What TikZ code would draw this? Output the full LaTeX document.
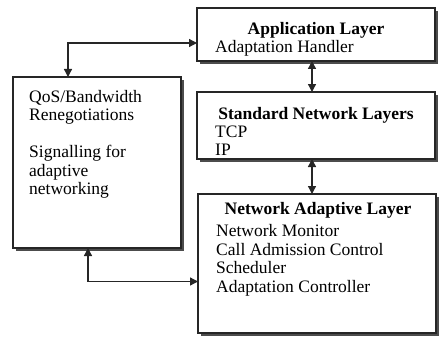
\documentclass[tikz,border=0pt]{standalone}
\usepackage{fontspec}
\setmainfont{Liberation Serif}
\usetikzlibrary{arrows.meta, shadows}

\begin{document}
\begin{tikzpicture}[
    x=1pt, y=-1pt,
    layer/.style={rectangle, draw=black!85, line width=1.1pt, fill=white, inner sep=0pt, outer sep=0pt, anchor=north west,
        drop shadow={shadow xshift=3pt, shadow yshift=-3pt, fill=black!70, opacity=1}},
    head/.style={font=\fontsize{17.5}{18.5}\selectfont\bfseries, inner sep=0pt, anchor=base},
    body/.style={font=\fontsize{17.5}{18.5}\selectfont, align=left, inner sep=0pt, anchor=north west},
    link/.style={line width=1.3pt, draw=black!85, {Triangle[length=8pt,width=8pt]}-{Triangle[length=8pt,width=8pt]}}
]
\useasboundingbox (0,0) rectangle (439,337);
\node (app) [layer, minimum width=238pt, minimum height=53pt] at (197,8) {};
\node (std) [layer, minimum width=238pt, minimum height=67pt] at (197,92) {};
\node (nal) [layer, minimum width=238pt, minimum height=139pt] at (198,194) {};
\node (qos) [layer, minimum width=168pt, minimum height=171pt] at (13,77) {};

\node (apphead) [head] at (316,35) {Application Layer};
\node (appbody) [body] at (215,40) {Adaptation Handler};
\node (stdhead) [head] at (316,119) {Standard Network Layers};
\node (stdbody) [body] at (215,125.5) {TCP\\IP};
\node (nalhead) [head] at (318,214) {Network Adaptive Layer};
\node (nalbody) [body, font=\fontsize{17.5}{18.7}\selectfont] at (216,224) {Network Monitor\\Call Admission Control\\Scheduler\\Adaptation Controller};
\node (qosbody) [body] at (29,90) {QoS/Bandwidth\\Renegotiations\\[18.5pt]Signalling for\\adaptive\\networking};

\draw [link] ([yshift=-8.5pt]app.west) -| ([xshift=55pt]qos.north west);
\draw [link] ([xshift=75pt]qos.south west) |- ([yshift=-18pt]nal.west);
\draw [link] ([xshift=-4pt]app.south) -- ([xshift=-4pt]std.north);
\draw [link] ([xshift=-4pt]std.south) -- ([xshift=-5pt]nal.north);
\end{tikzpicture}
\end{document}
